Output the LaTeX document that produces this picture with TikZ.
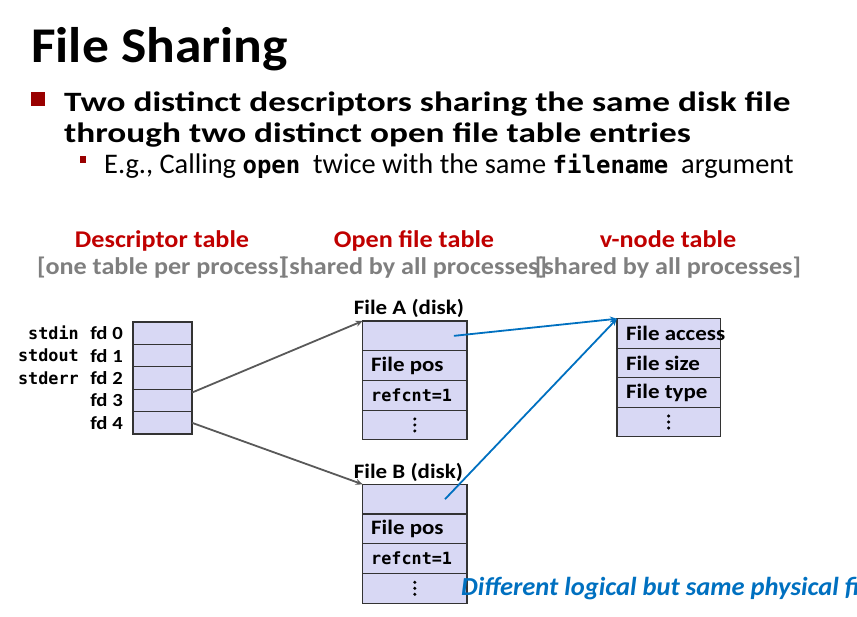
\documentclass[tikz,border=0pt]{standalone}
\usepackage{fontspec}
\setmainfont{Carlito}
\setmonofont{DejaVu Sans Mono}
\newfontfamily\titlefont{Carlito}[FakeStretch=1.07]
\newfontfamily\bulletfont{Carlito}[FakeStretch=1.26]
\newfontfamily\headfont{Carlito}[FakeStretch=1.09]
\newfontfamily\bodyfont{Carlito}[FakeStretch=1.12]
\newfontfamily\notefont{Carlito}[FakeStretch=1.02]
\usetikzlibrary{calc,arrows.meta}
\definecolor{cellfill}{HTML}{D8D8F4}
\definecolor{headred}{HTML}{C00000}
\definecolor{bulletred}{HTML}{990000}
\definecolor{linkblue}{HTML}{0070C0}
\definecolor{linkgray}{HTML}{595959}
\definecolor{subgray}{HTML}{7F7F7F}

\begin{document}
\begin{tikzpicture}[x=1pt,y=-1pt,
    cell/.style={draw=black!80,line width=1.2pt,fill=cellfill,inner sep=0pt,outer sep=0pt},
    fdcell/.style={cell,minimum width=59pt,minimum height=22.4pt},
    ofcell/.style={cell,minimum width=104.3pt,minimum height=29.7pt},
    vncell/.style={cell,minimum width=103.3pt,minimum height=29.5pt},
    celltext/.style={anchor=west,inner sep=0pt,font=\bodyfont\bfseries\fontsize{20.5}{20.5}\selectfont},
    monotext/.style={anchor=west,inner sep=0pt,font=\ttfamily\bfseries\fontsize{16.8}{16.8}\selectfont},
    headtext/.style={anchor=base,text=headred,font=\headfont\bfseries\fontsize{24}{24}\selectfont,inner sep=0pt},
    subtext/.style={anchor=base,text=subgray,font=\headfont\bfseries\fontsize{24}{24}\selectfont,inner sep=0pt},
    fdlabel/.style={anchor=east,inner sep=0pt,font=\bodyfont\bfseries\fontsize{18.5}{18.5}\selectfont},
    stdlabel/.style={anchor=east,inner sep=0pt,font=\ttfamily\bfseries\fontsize{16.8}{16.8}\selectfont},
    disklabel/.style={anchor=south west,inner sep=0pt,font=\bodyfont\bfseries\fontsize{20.5}{20.5}\selectfont},
    garrow/.style={draw=linkgray,line width=1.8pt,-{Stealth[open,length=7pt,width=6pt]}},
    barrow/.style={draw=linkblue,line width=1.8pt,-{Stealth[open,length=7pt,width=6pt]}}]
  \useasboundingbox(0,0)rectangle(857,616);

  % title and bullets
  \node[anchor=base west,inner sep=0pt,font=\titlefont\bfseries\fontsize{50}{50}\selectfont](title)at(31,62){File Sharing};
  \fill[bulletred](31,92)rectangle(45,106);
  \node[anchor=base west,inner sep=0pt,font=\bulletfont\bfseries\fontsize{28}{28}\selectfont](line1)at(64,111)
    {Two distinct descriptors sharing the same disk file};
  \node[anchor=base west,inner sep=0pt,font=\bulletfont\bfseries\fontsize{28}{28}\selectfont](line2)at(64,142)
    {through two distinct open file table entries};
  \fill[bulletred](80,156)rectangle(86,163);
  \node[anchor=base west,inner sep=0pt,font=\fontsize{28.4}{28.4}\selectfont](line3)at(104,173.5)
    {E.g., Calling {\ttfamily\bfseries\fontsize{24}{24}\selectfont open}\ \ twice with the same
     {\ttfamily\bfseries\fontsize{24}{24}\selectfont filename}\ \ argument};

  % table headings
  \node[headtext](dthead)at(162,247.7){Descriptor table};
  \node[subtext](dtsub)at(162,274.5){[one table per process]};
  \node[headtext](ofhead)at(414,247.7){Open file table};
  \node[subtext](ofsub)at(414,274.5){[shared by all processes]};
  \node[headtext](vnhead)at(668,247.7){v-node table};
  \node[subtext](vnsub)at(668,274.5){[shared by all processes]};

  % descriptor table
  \foreach \i in {0,...,4}{
    \node[fdcell](fd\i)at(162.5,{333.2+22.4*\i}){};
    \node[fdlabel](fdl\i)at(123,{333.2+22.4*\i}){fd \i};
  }
  \foreach \i/\nm in {0/stdin,1/stdout,2/stderr}{
    \node[stdlabel](std\i)at(79,{333.2+22.4*\i}){\nm};
  }

  % open file table, file A
  \node[ofcell](A0)at(414.8,335.85){};
  \node[ofcell](A1)at(414.8,365.55){};
  \node[ofcell](A2)at(414.8,395.25){};
  \node[ofcell](A3)at(414.8,424.95){};
  \node[celltext](A1t)at(371,365.55){File pos};
  \node[monotext](A2t)at(371,395.25){refcnt=1};
  \node[disklabel](Albl)at(353.7,318){File A (disk)};

  % open file table, file B
  \node[ofcell](B0)at(414.8,499.15){};
  \node[ofcell](B1)at(414.8,528.85){};
  \node[ofcell](B2)at(414.8,558.55){};
  \node[ofcell](B3)at(414.8,588.25){};
  \node[celltext](B1t)at(371,528.85){File pos};
  \node[monotext](B2t)at(371,558.55){refcnt=1};
  \node[disklabel](Blbl)at(353.7,481.3){File B (disk)};

  % v-node table
  \node[vncell](V0)at(668.6,333.5){};
  \node[vncell](V1)at(668.6,363){};
  \node[vncell](V2)at(668.6,392.5){};
  \node[vncell](V3)at(668.6,422){};
  \node[celltext](V0t)at(626,333.5){File access};
  \node[celltext](V1t)at(626,363){File size};
  \node[celltext](V2t)at(626,392.5){File type};

  % vertical dots
  \foreach \c in {A3,B3,V3}{
    \foreach \d in {-6,0,6}{
      \fill ($(\c.center)+(0,\d)$) circle (1.7pt);
    }
  }

  % pointers
  \draw[garrow]($(fd3.north east)!.15!(fd3.south east)$)--(A0.north west);
  \draw[garrow](fd4.east)--(B0.north west);
  \draw[barrow]($(A0.center)!.75!(A0.east)$)--(V0.north west);
  \draw[barrow]($(B0.center)!.58!(B0.east)$)--(V0.north west);

  \node[anchor=base west,inner sep=0pt,text=linkblue,font=\notefont\bfseries\itshape\fontsize{26}{26}\selectfont](note)
    at(461,595){Different logical but same physical file};
\end{tikzpicture}
\end{document}
